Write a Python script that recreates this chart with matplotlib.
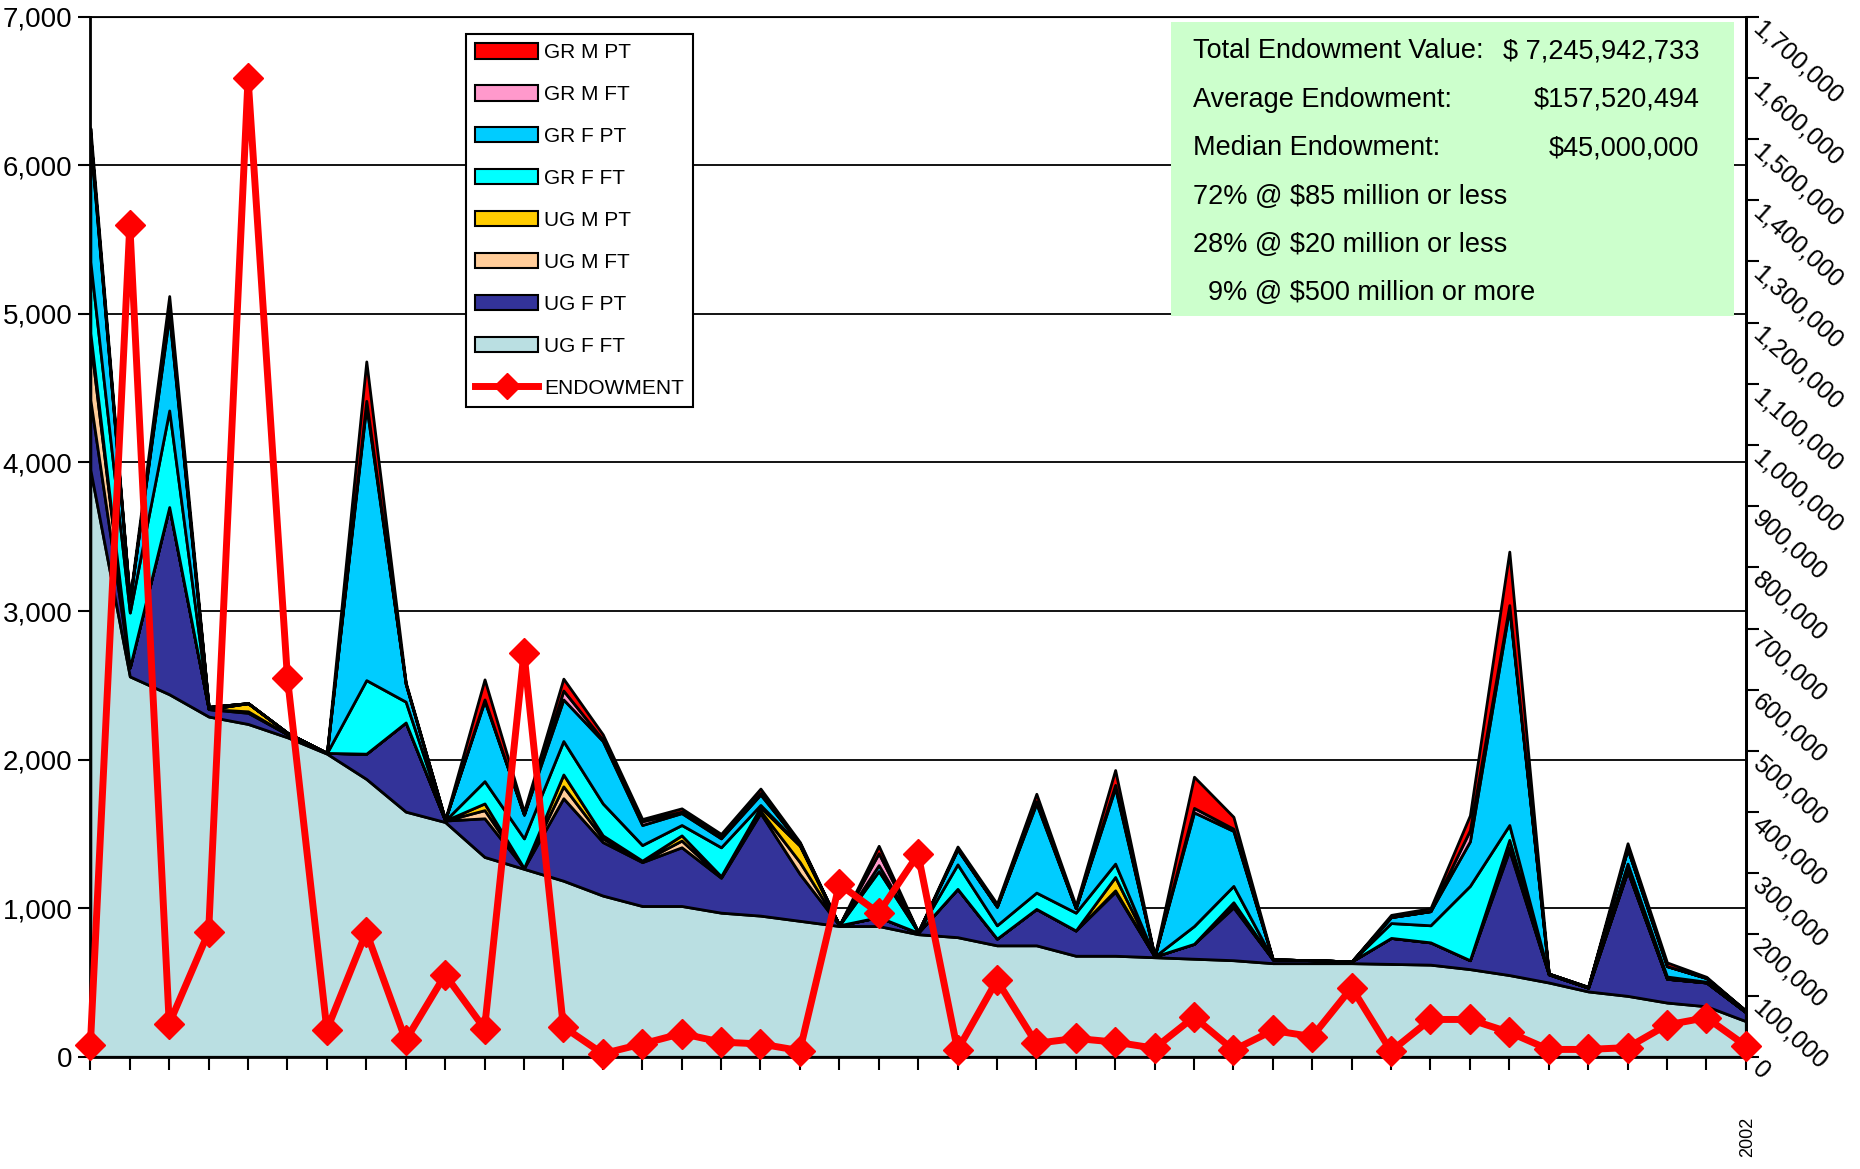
import numpy as np
import matplotlib
matplotlib.use('Agg')
import matplotlib.pyplot as plt
from matplotlib.patches import Patch, Rectangle
from matplotlib.lines import Line2D
from matplotlib.ticker import FuncFormatter

plt.rcParams['font.family'] = ['Liberation Sans', 'DejaVu Sans']

# enrollment by group, one value per institution (43 institutions)
ug_f_ft = [3950, 2560, 2440, 2290, 2240, 2150, 2040, 1870, 1650, 1580, 1345, 1265, 1185, 1085, 1015,
           1015, 970, 950, 915, 880, 880, 825, 805, 750, 750, 680, 680, 670, 660, 650, 630, 630, 630,
           625, 620, 590, 550, 500, 440, 410, 365, 340, 240]
ug_f_pt = [470, 60, 1260, 50, 75, 20, 5, 170, 600, 10, 260, 5, 555, 360, 295,
           395, 235, 690, 315, 5, 60, 10, 325, 45, 245, 170, 430, 5, 100, 355, 25, 20, 12,
           175, 150, 60, 840, 55, 25, 840, 160, 160, 60]
ug_m_ft = [400, 0, 0, 0, 10, 0, 0, 0, 0, 0, 55, 0, 80, 25, 5,
           45, 5, 15, 80, 0, 0, 0, 0, 0, 0, 0, 10, 0, 0, 10, 0, 0, 0,
           0, 0, 0, 20, 0, 0, 0, 0, 0, 0]
ug_m_pt = [50, 0, 0, 0, 55, 10, 0, 0, 0, 0, 45, 0, 80, 20, 5,
           35, 5, 25, 110, 0, 0, 0, 0, 0, 0, 0, 90, 0, 0, 25, 0, 0, 0,
           0, 0, 0, 50, 0, 0, 10, 0, 0, 0]
gr_f_ft = [480, 370, 650, 0, 0, 0, 0, 495, 140, 0, 150, 200, 225, 215, 105,
           70, 195, 15, 5, 0, 310, 5, 165, 90, 110, 120, 90, 0, 120, 110, 0, 0, 0,
           100, 115, 500, 100, 0, 0, 40, 15, 5, 0]
gr_f_pt = [820, 80, 640, 15, 0, 0, 0, 1850, 120, 5, 540, 160, 280, 420, 135,
           80, 60, 70, 10, 0, 40, 0, 100, 125, 600, 30, 510, 0, 765, 370, 0, 0, 0,
           40, 95, 300, 1460, 5, 5, 100, 70, 25, 10]
gr_m_ft = [30, 0, 30, 0, 0, 0, 0, 30, 0, 0, 10, 0, 60, 10, 25,
           10, 10, 10, 0, 0, 80, 0, 5, 0, 15, 0, 20, 0, 30, 15, 0, 0, 0,
           0, 0, 75, 20, 0, 0, 0, 0, 0, 0]
gr_m_pt = [50, 10, 100, 0, 0, 0, 0, 265, 10, 0, 135, 20, 80, 35, 15,
           22, 20, 30, 10, 0, 50, 0, 15, 20, 50, 18, 100, 0, 210, 80, 0, 0, 0,
           15, 20, 100, 360, 0, 0, 37, 25, 8, 0]

endowment = [20000, 1360000, 54000, 204000, 1600000, 619000, 44000, 204000, 27000, 134000,
             46000, 660000, 49000, 5000, 21000, 38000, 24000, 21000, 10000, 282000,
             235000, 331000, 11000, 125000, 22000, 30000, 24000, 14000, 65000, 11000,
             43000, 33000, 113000, 9000, 61000, 61000, 40000, 12000, 12000, 15000,
             52000, 64000, 18000]

series_names = ['UG F FT', 'UG F PT', 'UG M FT', 'UG M PT', 'GR F FT', 'GR F PT', 'GR M FT', 'GR M PT']
series_colors = ['#BADFE2', '#333399', '#FFCC99', '#FFCC00', '#00FFFF', '#00CCFF', '#FF99CC', '#FF0000']

info_labels = ['Total Endowment Value:', 'Average Endowment:', 'Median Endowment:',
               '72% @ $85 million or less', '28% @ $20 million or less', '  9% @ $500 million or more']
info_values = ['$ 7,245,942,733', '$157,520,494', '$45,000,000', '', '', '']

x = np.arange(len(ug_f_ft))
stack = [ug_f_ft, ug_f_pt, ug_m_ft, ug_m_pt, gr_f_ft, gr_f_pt, gr_m_ft, gr_m_pt]

fig = plt.figure(figsize=(18.6, 11.69), dpi=100)
ax = fig.add_axes([0.0486, 0.096, 0.89, 0.8897])

ax.stackplot(x, *stack, colors=series_colors, edgecolor='black', linewidth=2, zorder=3)
ax.set_xlim(0, len(x) - 1)
ax.set_ylim(0, 7000)
ax.set_yticks(np.arange(0, 7001, 1000))
ax.yaxis.set_major_formatter(FuncFormatter(lambda v, p: f'{int(v):,}'))
ax.set_xticks(x)
ax.set_xticklabels([])
ax.grid(axis='y', color='black', linewidth=1.3, zorder=1)
ax.set_axisbelow(True)
ax.tick_params(axis='y', direction='out', length=9, width=1.5, labelsize=20, pad=4)
ax.tick_params(axis='x', direction='out', length=9, width=1.5)
for s in ['left', 'bottom', 'right']:
    ax.spines[s].set_linewidth(2)
ax.spines['top'].set_linewidth(1.3)

ax2 = ax.twinx()
ax2.plot(x, endowment, color='#FF0000', linewidth=5, marker='D', markersize=15,
         markeredgecolor='#FF0000', zorder=5, clip_on=False)
ax2.set_ylim(0, 1700000)
ax2.set_yticks(np.arange(0, 1700001, 100000))
ax2.yaxis.set_major_formatter(FuncFormatter(lambda v, p: f'{int(v):,}'))
ax2.tick_params(axis='y', direction='out', length=9, width=1.5, labelsize=18, pad=4)
for lab in ax2.get_yticklabels():
    lab.set_rotation(-42)
    lab.set_rotation_mode('anchor')
    lab.set_ha('left')
    lab.set_va('top')
ax2.spines['right'].set_linewidth(2)

# info box
fig.patches.append(Rectangle((0.6295, 0.7298), 0.3026, 0.2515, transform=fig.transFigure,
                             facecolor='#CCFFCC', edgecolor='none', zorder=0))
for i, (lab, val) in enumerate(zip(info_labels, info_values)):
    yy = 0.956 - i * 0.0414
    fig.text(0.6415, yy, lab, fontsize=19.5, va='center', ha='left')
    if val:
        fig.text(0.9135, yy, val, fontsize=19.5, va='center', ha='right')

handles = [Patch(facecolor=c, edgecolor='black', linewidth=1.5, label=n)
           for n, c in zip(series_names, series_colors)][::-1]
handles.append(Line2D([0], [0], color='#FF0000', linewidth=5, marker='D', markersize=13,
                      label='ENDOWMENT'))
leg = fig.legend(handles=handles, loc='upper left', bbox_to_anchor=(0.2505, 0.971),
                 fontsize=15, frameon=True, fancybox=False, edgecolor='black', framealpha=1,
                 handlelength=3.0, handleheight=0.75, labelspacing=1.1,
                 borderpad=0.45, handletextpad=0.3, borderaxespad=0)
leg.get_frame().set_linewidth(1.5)
leg.set_zorder(10)

fig.text(0.9395, 0.01, '2002', rotation=90, fontsize=13, ha='center', va='bottom')

fig.savefig('out.png', dpi=100)
